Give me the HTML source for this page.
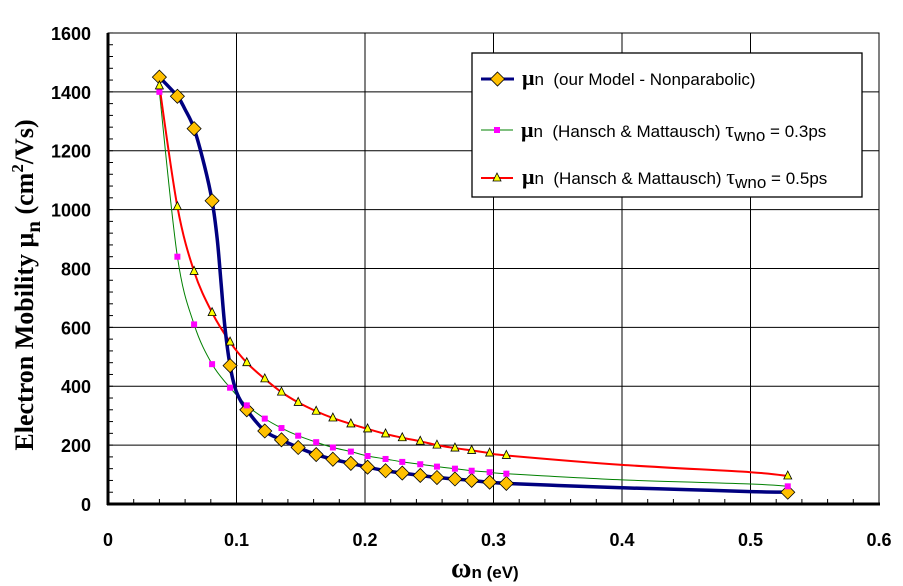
<!DOCTYPE html>
<html><head><meta charset="utf-8"><style>
body{margin:0;background:#fff;}
svg{display:block;}
tspan,text{white-space:pre;}
</style></head><body>
<svg id="chart" width="903" height="586" viewBox="0 0 903 586" xmlns="http://www.w3.org/2000/svg" font-family="Liberation Sans, Arial, sans-serif" font-weight="bold">
<g id="grid"></g>
<g id="series"></g>
<g id="axes"></g>
<g id="legend">
  <rect x="472" y="53" width="390" height="144" fill="#fff" stroke="#000" stroke-width="1.3"/>
  <g>
    <line x1="481" y1="79" x2="514" y2="79" stroke="#000080" stroke-width="3"/>
    <polygon points="497.5,72 504.5,79 497.5,86 490.5,79" fill="#FFC000" stroke="#000" stroke-width="0.8"/>
    <text x="522" y="85" font-size="22" font-family="Liberation Serif, serif">μ<tspan font-size="17" font-family="Liberation Sans, sans-serif" font-weight="normal">n  (our Model - Nonparabolic)</tspan></text>
  </g>
  <g>
    <line x1="481" y1="130" x2="513" y2="130" stroke="#008000" stroke-width="1"/>
    <rect x="494" y="127" width="6" height="6" fill="#FF00FF"/>
    <text x="521" y="137" font-size="22" font-family="Liberation Serif, serif">μ<tspan font-size="17" font-family="Liberation Sans, sans-serif" font-weight="normal">n  (Hansch &amp; Mattausch) </tspan><tspan font-size="22" font-family="Liberation Serif, serif" font-weight="normal">τ</tspan><tspan font-size="17" font-family="Liberation Sans, sans-serif" font-weight="normal" dy="4">wno</tspan><tspan font-size="17" font-family="Liberation Sans, sans-serif" font-weight="normal" dy="-4"> = 0.3ps</tspan></text>
  </g>
  <g>
    <line x1="481" y1="178" x2="513" y2="178" stroke="#FF0000" stroke-width="2"/>
    <polygon points="497,173 501,181 493,181" fill="#FFFF00" stroke="#000" stroke-width="0.8"/>
    <text x="522" y="184" font-size="22" font-family="Liberation Serif, serif">μ<tspan font-size="17" font-family="Liberation Sans, sans-serif" font-weight="normal">n  (Hansch &amp; Mattausch) </tspan><tspan font-size="22" font-family="Liberation Serif, serif" font-weight="normal">τ</tspan><tspan font-size="17" font-family="Liberation Sans, sans-serif" font-weight="normal" dy="4">wno</tspan><tspan font-size="17" font-family="Liberation Sans, sans-serif" font-weight="normal" dy="-4"> = 0.5ps</tspan></text>
  </g>
</g>
<text x="451" y="577" font-size="28" font-family="Liberation Serif, serif">ω<tspan font-size="17" font-family="Liberation Sans, sans-serif" dy="1">n (eV)</tspan></text>
<text transform="translate(33,285) rotate(-90)" text-anchor="middle" font-size="26" font-family="Liberation Serif, serif">Electron Mobility μ<tspan font-size="21" dy="7">n</tspan><tspan dy="-7"> (cm</tspan><tspan font-size="17" dy="-10">2</tspan><tspan dy="10">/Vs)</tspan></text>
</svg>
<script>
const xTicks=[0,0.1,0.2,0.3,0.4,0.5,0.6];
const xTickLabels=["0","0.1","0.2","0.3","0.4","0.5","0.6"];
const yTicks=[0,200,400,600,800,1000,1200,1400,1600];
const yTickLabels=["0","200","400","600","800","1000","1200","1400","1600"];
const markX=[0.04,0.054,0.067,0.081,0.095,0.108,0.122,0.135,0.148,0.162,0.175,0.189,0.202,0.216,0.229,0.243,0.256,0.27,0.283,0.297,0.31,0.529];
const ourModel=[1450,1385,1275,1030,470,320,248,218,192,168,152,138,125,113,105,97,90,85,80,74,70,40];
const ourLineX=[0.04,0.054,0.06,0.067,0.075,0.081,0.085,0.088,0.091,0.095,0.1,0.108,0.122,0.135,0.148,0.162,0.175,0.189,0.202,0.216,0.229,0.243,0.256,0.27,0.283,0.297,0.31,0.35,0.4,0.45,0.5,0.529];
const ourLineY=[1450,1385,1340,1275,1150,1030,900,750,600,470,380,320,248,218,192,168,152,138,125,113,105,97,90,85,80,74,70,63,55,49,42,40];
const hm03=[1400,840,610,475,395,335,290,258,232,210,192,178,163,153,143,135,127,120,113,108,103,60];
const hm05=[1420,1010,790,650,550,480,425,380,345,315,292,272,255,238,225,213,200,190,182,173,165,95];
const hmLineX=[0.4,0.5];
const hm03Line=[82,68];
const hm05Line=[133,108];

const X0=108,XS=1285,Y0=504,YS=0.2944,XR=879,YT=33;
const sx=v=>X0+v*XS, sy=v=>Y0-v*YS;
const NS="http://www.w3.org/2000/svg";
function mk(tag,attrs,parent){const e=document.createElementNS(NS,tag);for(const k in attrs)e.setAttribute(k,attrs[k]);parent.appendChild(e);return e;}
const grid=document.getElementById('grid'),axes=document.getElementById('axes'),ser=document.getElementById('series');

xTicks.forEach((t,i)=>{
  if(i>0&&i<xTicks.length-1){const g=mk('line',{x1:sx(t),x2:sx(t),y1:YT,y2:Y0,stroke:'#000','stroke-width':1},grid);
  
  }
  const l=mk('text',{x:sx(t),y:Y0+42,'text-anchor':'middle','font-size':18},axes);
  
  
  l.textContent=xTickLabels[i];
});
yTicks.forEach((t,i)=>{
  if(i>0&&i<yTicks.length-1){const g=mk('line',{x1:X0,x2:XR,y1:sy(t),y2:sy(t),stroke:'#000','stroke-width':1},grid);
  
  }
  const l=mk('text',{x:X0-17,y:sy(t)+7,'text-anchor':'end','font-size':18},axes);
  
  
  l.textContent=yTickLabels[i];
});
for(let v=0;v<=0.6001;v+=0.02){mk('line',{x1:sx(v),x2:sx(v),y1:Y0,y2:Y0-5,stroke:'#000','stroke-width':1},axes);}
for(let v=0;v<=1600;v+=40){mk('line',{x1:X0,x2:X0+5,y1:sy(v),y2:sy(v),stroke:'#000','stroke-width':1},axes);}
const fr=mk('rect',{x:X0,y:YT,width:XR-X0,height:Y0-YT,fill:'none',stroke:'#000','stroke-width':1},axes);


mk('line',{x1:X0,x2:X0,y1:YT,y2:Y0+1,stroke:'#000','stroke-width':3},axes);
mk('line',{x1:X0-1,x2:XR+1,y1:Y0,y2:Y0,stroke:'#000','stroke-width':3},axes);

function smooth(xs,ys){
  const p=xs.map((x,i)=>[sx(x),sy(ys[i])]);
  let d=`M${p[0][0]},${p[0][1]}`;
  for(let i=0;i<p.length-1;i++){
    const a=p[i-1]||p[i],b=p[i],c=p[i+1],e=p[i+2]||c;
    const c1=[b[0]+(c[0]-a[0])/6,b[1]+(c[1]-a[1])/6],c2=[c[0]-(e[0]-b[0])/6,c[1]-(e[1]-b[1])/6];
    d+=` C${c1[0]},${c1[1]} ${c2[0]},${c2[1]} ${c[0]},${c[1]}`;
  }
  return d;
}
function merge(xs,ys,ex,ey){const pts=xs.map((x,i)=>[x,ys[i]]).concat(ex.map((x,i)=>[x,ey[i]]));pts.sort((a,b)=>a[0]-b[0]);return [pts.map(p=>p[0]),pts.map(p=>p[1])];}

const m3=merge(markX,hm03,hmLineX,hm03Line),m5=merge(markX,hm05,hmLineX,hm05Line);
const lg=mk('path',{d:smooth(m3[0],m3[1]),fill:'none',stroke:'#008000','stroke-width':1},ser);


const lr=mk('path',{d:smooth(m5[0],m5[1]),fill:'none',stroke:'#FF0000','stroke-width':2},ser);


const lb=mk('path',{d:smooth(ourLineX,ourLineY),fill:'none',stroke:'#000080','stroke-width':3.5},ser);



markX.forEach((x,i)=>{
  const cx=sx(x),cy=sy(ourModel[i]);
  const d=mk('polygon',{points:`${cx},${cy-7} ${cx+7},${cy} ${cx},${cy+7} ${cx-7},${cy}`,fill:'#FFC000',stroke:'#000','stroke-width':0.8},ser);
  
  
});
markX.forEach((x,i)=>{
  const cx=sx(x),cy=sy(hm03[i]);
  const s=mk('rect',{x:cx-3,y:cy-3,width:6,height:6,fill:'#FF00FF'},ser);
  
  
});
markX.forEach((x,i)=>{
  const cx=sx(x),cy=sy(hm05[i]);
  const t=mk('polygon',{points:`${cx},${cy-5} ${cx+4},${cy+3} ${cx-4},${cy+3}`,fill:'#FFFF00',stroke:'#000','stroke-width':0.8},ser);
  
  
});
</script>
</body></html>
